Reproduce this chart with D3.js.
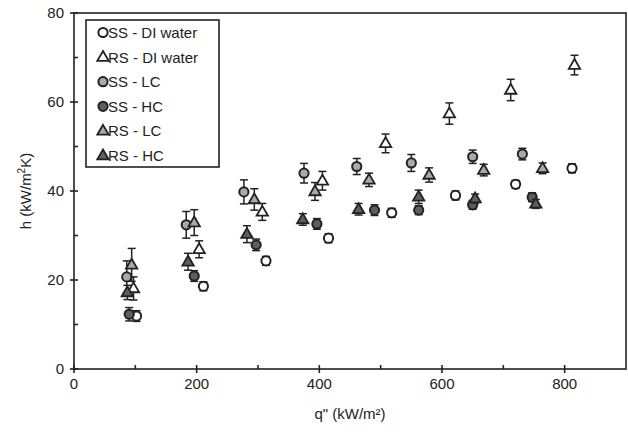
<!DOCTYPE html>
<html>
<head>
<meta charset="utf-8">
<script src="https://cdn.jsdelivr.net/npm/d3@7"></script>
<style>
  body { margin: 0; background: #fff; }
  text { font-family: "Liberation Sans", Arial, sans-serif; fill: #222; }
</style>
</head>
<body>
<svg></svg>
<script>
// heat flux q'' (kW/m2), heat transfer coefficient h (kW/m2K), error bar half-height
var ssDiQ = [102, 211, 313, 415, 518, 622, 720, 812];
var ssDiH = [11.9, 18.6, 24.3, 29.4, 35.1, 39.0, 41.5, 45.1];
var ssDiE = [1.2, 1.0, 1.0, 1.0, 1.0, 1.0, 0.9, 1.0];

var rsDiQ = [97, 204, 307, 405, 508, 612, 712, 816];
var rsDiH = [18.1, 26.9, 35.3, 42.3, 50.7, 57.4, 62.7, 68.3];
var rsDiE = [2.6, 1.9, 1.9, 2.1, 2.1, 2.4, 2.4, 2.2];

var ssLcQ = [86, 183, 277, 375, 461, 550, 650, 731];
var ssLcH = [20.7, 32.4, 39.8, 44.0, 45.5, 46.3, 47.7, 48.3];
var ssLcE = [3.6, 3.0, 2.7, 2.2, 1.8, 1.9, 1.5, 1.3];

var ssHcQ = [90, 196, 297, 396, 490, 562, 650, 747];
var ssHcH = [12.3, 20.9, 27.9, 32.6, 35.7, 35.7, 36.9, 38.6];
var ssHcE = [1.5, 1.2, 1.3, 1.2, 1.2, 1.0, 1.0, 1.0];

var rsLcQ = [94, 196, 294, 393, 481, 579, 668, 764];
var rsLcH = [23.4, 32.9, 38.1, 39.9, 42.5, 43.6, 44.7, 45.1];
var rsLcE = [3.7, 2.9, 2.4, 2.0, 1.5, 1.6, 1.3, 1.2];

var rsHcQ = [87, 186, 282, 373, 464, 562, 654, 753];
var rsHcH = [17.2, 24.1, 30.3, 33.6, 35.9, 38.7, 38.3, 37.1];
var rsHcE = [1.6, 1.9, 1.9, 1.3, 1.3, 1.5, 1.0, 1.0];

var seriesNames = ["SS - DI water", "RS - DI water", "SS - LC", "SS - HC", "RS - LC", "RS - HC"];
var xTicks = [0, 200, 400, 600, 800];
var yTicks = [0, 20, 40, 60, 80];

var series = [
  { name: seriesNames[0], shape: "circle", fill: "#ffffff", q: ssDiQ, h: ssDiH, e: ssDiE },
  { name: seriesNames[1], shape: "triangle", fill: "#ffffff", q: rsDiQ, h: rsDiH, e: rsDiE },
  { name: seriesNames[2], shape: "circle", fill: "#a9a9a9", q: ssLcQ, h: ssLcH, e: ssLcE },
  { name: seriesNames[3], shape: "circle", fill: "#5e5e5e", q: ssHcQ, h: ssHcH, e: ssHcE },
  { name: seriesNames[4], shape: "triangle", fill: "#a9a9a9", q: rsLcQ, h: rsLcH, e: rsLcE },
  { name: seriesNames[5], shape: "triangle", fill: "#5e5e5e", q: rsHcQ, h: rsHcH, e: rsHcE }
];

var width = 628, height = 436;
var margin = { top: 13, right: 2, bottom: 67, left: 74 };

var svg = d3.select("svg").attr("width", width).attr("height", height);

var x = d3.scaleLinear().domain([0, 900]).range([margin.left, width - margin.right]);
var y = d3.scaleLinear().domain([0, 80]).range([height - margin.bottom, margin.top]);

var ink = "#222";

// frame
svg.append("rect")
  .attr("x", x(0)).attr("y", y(80))
  .attr("width", x(900) - x(0)).attr("height", y(0) - y(80))
  .attr("fill", "none").attr("stroke", ink).attr("stroke-width", 1.6);

// x axis ticks (major cross the axis, minor inside only)
var gx = svg.append("g");
gx.selectAll(".maj").data(xTicks).join("line")
  .attr("x1", d => x(d)).attr("x2", d => x(d))
  .attr("y1", y(0) - 4).attr("y2", y(0) + 4)
  .attr("stroke", ink).attr("stroke-width", 1.6);
gx.selectAll(".min").data(d3.range(100, 900, 200)).join("line")
  .attr("x1", d => x(d)).attr("x2", d => x(d))
  .attr("y1", y(0) - 4).attr("y2", y(0))
  .attr("stroke", ink).attr("stroke-width", 1.6);
gx.selectAll("text").data(xTicks).join("text")
  .attr("x", d => x(d)).attr("y", y(0) + 20)
  .attr("text-anchor", "middle").attr("font-size", 15)
  .text(d => d);

// y axis ticks
var gy = svg.append("g");
gy.selectAll(".maj").data(yTicks).join("line")
  .attr("x1", x(0) - 4).attr("x2", x(0) + 4)
  .attr("y1", d => y(d)).attr("y2", d => y(d))
  .attr("stroke", ink).attr("stroke-width", 1.6);
gy.selectAll(".min").data([10, 30, 50, 70]).join("line")
  .attr("x1", x(0)).attr("x2", x(0) + 4)
  .attr("y1", d => y(d)).attr("y2", d => y(d))
  .attr("stroke", ink).attr("stroke-width", 1.6);
gy.selectAll("text").data(yTicks).join("text")
  .attr("x", x(0) - 10).attr("y", d => y(d))
  .attr("dy", "0.36em")
  .attr("text-anchor", "end").attr("font-size", 15)
  .text(d => d);

// axis titles
svg.append("text")
  .attr("x", (x(0) + x(900)) / 2).attr("y", 419)
  .attr("text-anchor", "middle").attr("font-size", 15)
  .text("q\" (kW/m²)");

var yl = svg.append("text")
  .attr("transform", "translate(31," + ((y(0) + y(80)) / 2) + ") rotate(-90)")
  .attr("text-anchor", "middle").attr("font-size", 15);
yl.append("tspan").text("h (kW/m");
yl.append("tspan").attr("font-size", 10).attr("dy", -6).text("2");
yl.append("tspan").attr("dy", 6).text("K)");

var triangle = d3.symbol().type(d3.symbolTriangle).size(56);

function drawMarker(g, s, cx, cy) {
  if (s.shape === "circle") {
    g.append("circle").attr("cx", cx).attr("cy", cy).attr("r", 4.6)
      .attr("fill", s.fill).attr("stroke", ink).attr("stroke-width", 2);
  } else {
    g.append("path").attr("d", triangle)
      .attr("transform", "translate(" + cx + "," + (cy + 0.5) + ")")
      .attr("fill", s.fill).attr("stroke", ink).attr("stroke-width", 1.8)
      .attr("stroke-linejoin", "miter");
  }
}

// points with error bars
var plot = svg.append("g");
series.forEach(function(s) {
  var pts = s.q.map((q, i) => ({ q: q, h: s.h[i], e: s.e[i] }));
  var g = plot.append("g");
  pts.forEach(function(p) {
    var cx = x(p.q), y1 = y(p.h + p.e), y2 = y(p.h - p.e);
    g.append("line").attr("x1", cx).attr("x2", cx).attr("y1", y1).attr("y2", y2)
      .attr("stroke", ink).attr("stroke-width", 1.5);
    [y1, y2].forEach(function(yy) {
      g.append("line").attr("x1", cx - 4).attr("x2", cx + 4).attr("y1", yy).attr("y2", yy)
        .attr("stroke", ink).attr("stroke-width", 1.5);
    });
  });
  pts.forEach(function(p) { drawMarker(g, s, x(p.q), y(p.h)); });
});

// legend
var legend = svg.append("g");
legend.append("rect")
  .attr("x", 86).attr("y", 20).attr("width", 133).attr("height", 147)
  .attr("fill", "#fff").attr("stroke", ink).attr("stroke-width", 1.6);
series.forEach(function(s, i) {
  var ly = 32.5 + i * 24.6;
  var g = legend.append("g");
  drawMarker(g, s, 103, ly);
  g.append("text").attr("x", 108).attr("y", ly).attr("dy", "0.36em")
    .attr("font-size", 15).text(s.name);
});
</script>
</body>
</html>
